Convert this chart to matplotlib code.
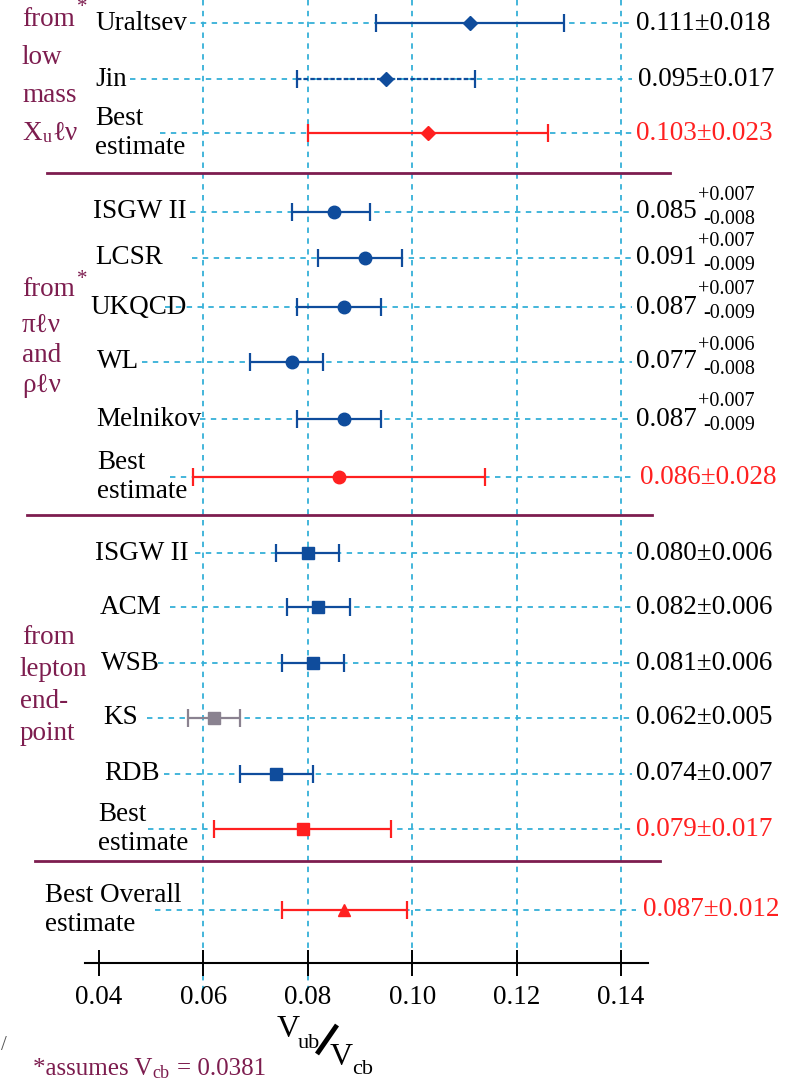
import matplotlib.pyplot as plt

plt.rcParams['mathtext.fontset'] = 'stix'
SERIF = ['Liberation Serif', 'DejaVu Serif']

# ---- data ----
labels = ["Uraltsev", "Jin", "Best\nestimate",
          "ISGW II", "LCSR", "UKQCD", "WL", "Melnikov", "Best\nestimate",
          "ISGW II", "ACM", "WSB", "KS", "RDB", "Best\nestimate",
          "Best Overall\nestimate"]
values = [0.111, 0.095, 0.103,
          0.085, 0.091, 0.087, 0.077, 0.087, 0.086,
          0.080, 0.082, 0.081, 0.062, 0.074, 0.079,
          0.087]
err_plus = [0.018, 0.017, 0.023,
            0.007, 0.007, 0.007, 0.006, 0.007, 0.028,
            0.006, 0.006, 0.006, 0.005, 0.007, 0.017,
            0.012]
err_minus = [0.018, 0.017, 0.023,
             0.008, 0.009, 0.009, 0.008, 0.009, 0.028,
             0.006, 0.006, 0.006, 0.005, 0.007, 0.017,
             0.012]
xticks = [0.04, 0.06, 0.08, 0.10, 0.12, 0.14]

# ---- styles / layout ----
BLUE = "#0f4c9c"
RED = "#ff2020"
GRAY = "#8a8290"
CYAN = "#35b0d8"
PURPLE = "#7d1d4f"
FS = 19.5

colors = [BLUE, BLUE, RED] + [BLUE] * 5 + [RED] + [BLUE] * 3 + [GRAY, BLUE, RED] + [RED]
markers = ["D", "D", "D"] + ["o"] * 6 + ["s"] * 6 + ["^"]
msizes = [7, 7, 7] + [9] * 6 + [9] * 6 + [9]
row_y = [23, 79, 133, 212, 258, 307, 362, 419, 477,
         553, 607, 663, 718, 774, 829, 910]
label_x = [95, 95, 95, 93, 95, 90, 97, 96, 97, 95, 100, 101, 103, 104, 98, 45]
dash_start = [190, 130, 160, 190, 192, 165, 142, 200, 170,
              195, 170, 158, 147, 164, 148, 155]
value_x = [636, 638, 636, 636, 636, 636, 636, 636, 640,
           636, 636, 636, 636, 636, 636, 643]
W, H = 789, 1081


def px(x):
    # pixel column -> axis value (0.04 at x=99, 0.14 at x=621)
    return 0.04 + (x - 99) / 5220.0


fig = plt.figure(figsize=(W / 100, H / 100), dpi=100)
ax = fig.add_axes([0, 0, 1, 1])
ax.set_xlim(px(0), px(W))
ax.set_ylim(H, 0)

# vertical grid
grid_end = [990, 990, 963, 963, 963]
for xv, ye in zip(xticks[1:], grid_end):
    ax.plot([xv, xv], [0, ye], color=CYAN, lw=1.3, ls=(0, (3, 3)), zorder=1)

# row guide lines
for i, y in enumerate(row_y):
    end = 636 if i == len(row_y) - 1 else 632
    ax.plot([px(dash_start[i]), px(end)], [y, y], color=CYAN, lw=1.3,
            ls=(0, (3, 3)), zorder=1)

# separators
for y, x0, x1 in [(173, 47, 670), (515, 27, 652), (861, 35, 660)]:
    ax.plot([px(x0), px(x1)], [y, y], color=PURPLE, lw=2, zorder=2)

# error bars
for i, (v, y) in enumerate(zip(values, row_y)):
    eb = ax.errorbar(v, y, xerr=[[err_minus[i]], [err_plus[i]]],
                     fmt=markers[i], color=colors[i], ms=msizes[i],
                     capsize=6.5, elinewidth=1.6, capthick=1.6, zorder=3)
    if labels[i] == "Jin":
        eb[2][0].set_linestyle((0, (2, 1)))

    ax.text(px(label_x[i]), y, labels[i], ha="left", va="center",
            fontsize=FS, family=SERIF, linespacing=1.2)

    tc = RED if colors[i] == RED else "black"
    if err_plus[i] == err_minus[i]:
        ax.text(px(value_x[i]), y, f"{v:.3f}\u00b1{err_plus[i]:.3f}",
                ha="left", va="center", fontsize=FS, family=SERIF, color=tc)
    else:
        ax.text(px(value_x[i]), y, f"{v:.3f}", ha="left", va="center",
                fontsize=FS, family=SERIF, color=tc)
        ax.text(px(value_x[i] + 62), y - 17, f"+{err_plus[i]:.3f}",
                ha="left", va="center", fontsize=14.5, family=SERIF, color=tc)
        ax.text(px(value_x[i] + 67), y + 7, f"-{err_minus[i]:.3f}",
                ha="left", va="center", fontsize=14.5, family=SERIF, color=tc)

# group labels
group_lines = [("from", 22, 20), ("low", 22, 57), ("mass", 22, 95),
               ("from", 22, 290), ("\u03c0\u2113\u03bd", 22, 325),
               ("and", 22, 355), ("\u03c1\u2113\u03bd", 22, 385),
               ("from", 22, 637), ("lepton", 20, 670),
               ("end-", 20, 702), ("point", 20, 733)]
for t, x, y in group_lines:
    ax.text(px(x), y, t, ha="left", va="center", fontsize=FS,
            family=SERIF, color=PURPLE)
for x, y in [(77, 8), (77, 279)]:
    ax.text(px(x), y, "*", ha="left", va="center", fontsize=15,
            family=SERIF, color=PURPLE)
ax.text(px(22), 133, "X", ha="left", va="center", fontsize=FS,
        family=SERIF, color=PURPLE)
ax.text(px(43), 138, "u", ha="left", va="center", fontsize=13,
        family=SERIF, color=PURPLE)
ax.text(px(52), 133, "\u2113\u03bd", ha="left", va="center", fontsize=FS,
        family=SERIF, color=PURPLE)

# x axis
for s in ["top", "left", "right"]:
    ax.spines[s].set_visible(False)
ax.spines["bottom"].set_position(("data", 963))
ax.spines["bottom"].set_bounds(px(85), px(648))
ax.spines["bottom"].set_linewidth(1.5)
ax.set_xticks(xticks)
ax.set_xticklabels([f"{t:.2f}" for t in xticks], family=SERIF)
ax.tick_params(axis="x", direction="inout", length=19, width=1.4,
               pad=6, labelsize=FS)
ax.set_yticks([])

# axis title V_ub / V_cb
ax.text(px(277), 1037, "V", ha="left", va="baseline", fontsize=23, family=SERIF)
ax.text(px(298), 1048, "ub", ha="left", va="baseline", fontsize=16, family=SERIF)
ax.plot([px(317), px(337)], [1054, 1025], color="black", lw=3.5,
        solid_capstyle="butt")
ax.text(px(330), 1065, "V", ha="left", va="baseline", fontsize=23, family=SERIF)
ax.text(px(352), 1074, "cb", ha="left", va="baseline", fontsize=16, family=SERIF)

ax.text(px(33), 1069, "*assumes V", ha="left", va="center", fontsize=18,
        family=SERIF, color=PURPLE)
ax.text(px(152), 1074, "cb", ha="left", va="center", fontsize=13,
        family=SERIF, color=PURPLE)
ax.text(px(177), 1069, "= 0.0381", ha="left", va="center", fontsize=18,
        family=SERIF, color=PURPLE)
ax.text(px(1), 1046, "/", ha="left", va="center", fontsize=15,
        family=SERIF, color="#555555")

fig.savefig("out.png", dpi=100)
